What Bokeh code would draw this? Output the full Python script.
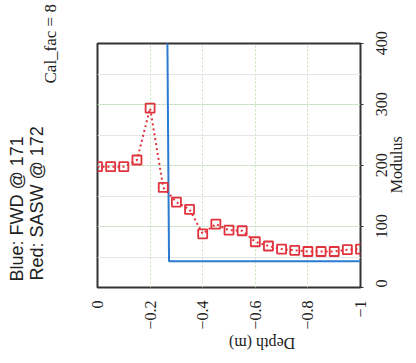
from math import pi
from bokeh.plotting import figure
from bokeh.models import Range1d, FixedTicker, Title, LinearAxis, Grid
from bokeh.embed import file_html
from bokeh.resources import INLINE

# Data
sasw_depth = [0.0, -0.05, -0.10, -0.15, -0.20, -0.25, -0.30, -0.35, -0.40, -0.45, -0.50,
              -0.55, -0.60, -0.65, -0.70, -0.75, -0.80, -0.85, -0.90, -0.95, -1.00]
sasw_modulus = [198, 198, 198, 209, 294, 164, 140, 128, 88, 104, 94,
                93, 75, 68, 63, 61, 59, 59, 59, 62, 63]
fwd_depth = [-0.265, -0.272, -1.0]
fwd_modulus = [450, 43, 43]
depth_ticks = [0, -0.2, -0.4, -0.6, -0.8, -1.0]
depth_tick_labels = ["0", "\u22120.2", "\u22120.4", "\u22120.6", "\u22120.8", "\u22121"]
modulus_ticks = [0, 100, 200, 300, 400]
modulus_tick_labels = ["0", "100", "200", "300", "400"]

SERIF = "Liberation Serif"
SANS = "Liberation Sans"
FRAME_H = 250          # px height of the plot frame
Y0, Y1 = 0, 400
UNITS_PER_PX = (Y1 - Y0) / FRAME_H

p = figure(width=416, height=363, x_range=Range1d(0, -1), y_range=Range1d(Y0, Y1),
           output_backend="svg", toolbar_location=None, y_axis_location=None,
           min_border_left=97, min_border_right=46, min_border_top=43, min_border_bottom=70)
p.background_fill_color = "white"
p.border_fill_color = "white"
p.outline_line_color = "#333333"
p.outline_line_width = 2

# depth axis (bottom)
xa = p.xaxis[0]
xa.ticker = FixedTicker(ticks=depth_ticks)
xa.major_label_overrides = dict(zip(depth_ticks, depth_tick_labels))
xa.major_label_orientation = pi / 2
xa.major_label_text_font = SERIF
xa.major_label_text_font_size = "16px"
xa.major_label_text_color = "#222222"
xa.major_label_standoff = 7
xa.axis_line_color = None
xa.major_tick_line_color = None
xa.minor_tick_line_color = None
xa.axis_label = "Depth (m)"
xa.axis_label_text_font = SERIF
xa.axis_label_text_font_size = "16px"
xa.axis_label_text_font_style = "normal"
xa.axis_label_text_color = "#222222"
xa.axis_label_standoff = 11
xa.axis_label_orientation = pi

# modulus axis (right); rotated labels are anchored at their start, so each
# label anchor is moved down by half the label's length to centre it on its tick
def half_len_units(text, size_px=16):
    return len(text) * 0.5 * size_px / 2 * UNITS_PER_PX

label_pos, label_map = [], {}
for v, t in zip(modulus_ticks, modulus_tick_labels):
    pos = round(v - half_len_units(t), 3)
    if pos < Y0:
        pos = v
    label_pos.append(pos)
    label_map[pos] = t

ya = LinearAxis(ticker=FixedTicker(ticks=label_pos, minor_ticks=modulus_ticks))
ya.major_label_overrides = label_map
ya.major_label_orientation = pi / 2
ya.major_label_text_font = SERIF
ya.major_label_text_font_size = "16px"
ya.major_label_text_color = "#222222"
ya.major_label_standoff = 18
ya.axis_line_color = None
ya.major_tick_line_color = None
ya.minor_tick_line_color = "#333333"
ya.minor_tick_out = 3
ya.minor_tick_in = 0
ya.major_tick_out = 0
ya.major_tick_in = 0
p.add_layout(ya, "right")

# "Modulus" title of the right axis, centred on the axis middle
mod_title = "Modulus"
mid = (Y0 + Y1) / 2
mod_pos = round(mid - 3.556 * 16 / 2 * UNITS_PER_PX, 3)
yb = LinearAxis(ticker=FixedTicker(ticks=[mod_pos], minor_ticks=[]))
yb.major_label_overrides = {mod_pos: mod_title}
yb.major_label_orientation = pi / 2
yb.major_label_text_font = SERIF
yb.major_label_text_font_size = "16px"
yb.major_label_text_color = "#222222"
yb.major_label_standoff = 1
yb.axis_line_color = None
yb.major_tick_line_color = None
yb.minor_tick_line_color = None
yb.major_tick_out = 0
yb.minor_tick_out = 0
yb.major_tick_in = 0
p.add_layout(yb, "right")

p.xgrid.grid_line_color = "#c4e0bc"
p.xgrid.grid_line_dash = "2 2"
p.xgrid.grid_line_width = 1
p.add_layout(Grid(dimension=1, ticker=FixedTicker(ticks=modulus_ticks),
                  grid_line_color="#b9dfb0", grid_line_dash="2 2", grid_line_width=1))

# FWD
p.line(fwd_depth, fwd_modulus, line_color="#2b7bd0", line_width=2)
# SASW
p.line(sasw_depth, sasw_modulus, line_color="#e0333c", line_width=2, line_dash="2 3")
p.scatter(sasw_depth, sasw_modulus, marker="square", size=9, fill_color=None,
          line_color="#e0333c", line_width=1.8)

# side texts as titles (first added is nearest the frame)
p.add_layout(Title(text="Cal_fac = 8", align="left", offset=204, standoff=76,
                   text_font=SERIF, text_font_size="17px", text_font_style="normal",
                   text_color="#222222"), "left")
p.add_layout(Title(text="Red: SASW @ 172", align="left", offset=7, standoff=-92,
                   text_font=SANS, text_font_size="18px", text_font_style="normal",
                   text_color="#222222"), "left")
p.add_layout(Title(text="Blue: FWD @ 171", align="left", offset=6, standoff=-53,
                   text_font=SANS, text_font_size="18px", text_font_style="normal",
                   text_color="#222222"), "left")

open("out.html", "w").write(file_html(p, INLINE))
